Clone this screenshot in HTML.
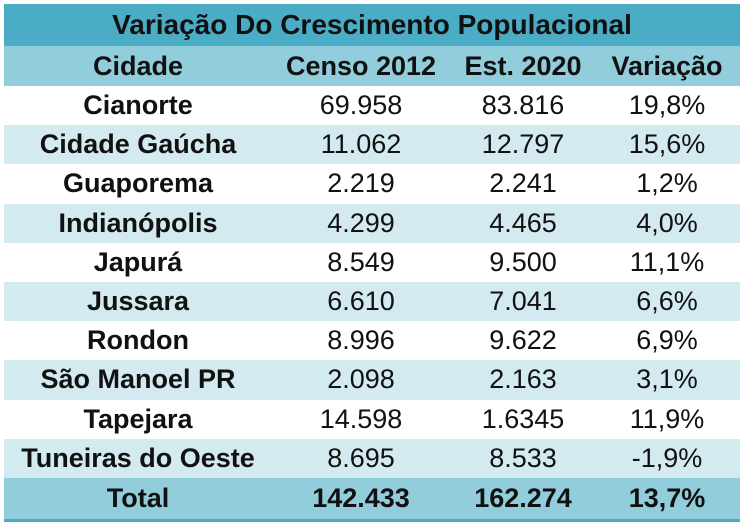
<!DOCTYPE html>
<html><head><meta charset="utf-8"><style>
body{margin:0;width:744px;height:525px;background:#fff;overflow:hidden;font-family:"Liberation Sans",sans-serif;color:#111}
.r{position:absolute;left:4px;width:736px}
.c{position:absolute;top:0;height:100%;display:flex;align-items:center;justify-content:center;white-space:nowrap;font-size:27px}
.c span{display:inline-block;transform:scaleX(1)}
.b{font-weight:bold}
</style></head><body>
<div class="r" style="top:4px;height:42px;background:#4bacc6"><div class="c b" style="left:0;width:736px;font-size:28px"><span>Variação Do Crescimento Populacional</span></div></div>
<div id="rows"></div>
<div style="position:absolute;left:4px;width:736px;top:519px;height:3px;background:#4bacc6"></div>
<script>
(function(){
var d=[["Cidade","Censo 2012","Est. 2020","Variação",1],
["Cianorte","69.958","83.816","19,8%",0],
["Cidade Gaúcha","11.062","12.797","15,6%",0],
["Guaporema","2.219","2.241","1,2%",0],
["Indianópolis","4.299","4.465","4,0%",0],
["Japurá","8.549","9.500","11,1%",0],
["Jussara","6.610","7.041","6,6%",0],
["Rondon","8.996","9.622","6,9%",0],
["São Manoel PR","2.098","2.163","3,1%",0],
["Tapejara","14.598","1.6345","11,9%",0],
["Tuneiras do Oeste","8.695","8.533","-1,9%",0],
["Total","142.433","162.274","13,7%",2]];
var cx=[138,361,523,667],h="";
for(var i=0;i<d.length;i++){
 var yy,ht;
 if(i==0){yy=46;ht=40}else if(i==11){yy=478;ht=41}else{yy=86+(i-1)*39.2;ht=39.2}
 var bg=(i==0||i==11)?"#92cddc":(i%2==0?"#d3eaf1":"#fff");
 h+='<div class="r" style="top:'+yy+'px;height:'+ht+'px;background:'+bg+'">';
 for(var j=0;j<4;j++){
  var bold=(j==0||d[i][4]>0)?" b":"";
  h+='<div class="c'+bold+'" style="left:'+(cx[j]-4-120)+'px;width:240px"><span>'+d[i][j]+'</span></div>';
 }
 h+='</div>';
}
document.getElementById("rows").innerHTML=h;
})();
</script>
</body></html>
